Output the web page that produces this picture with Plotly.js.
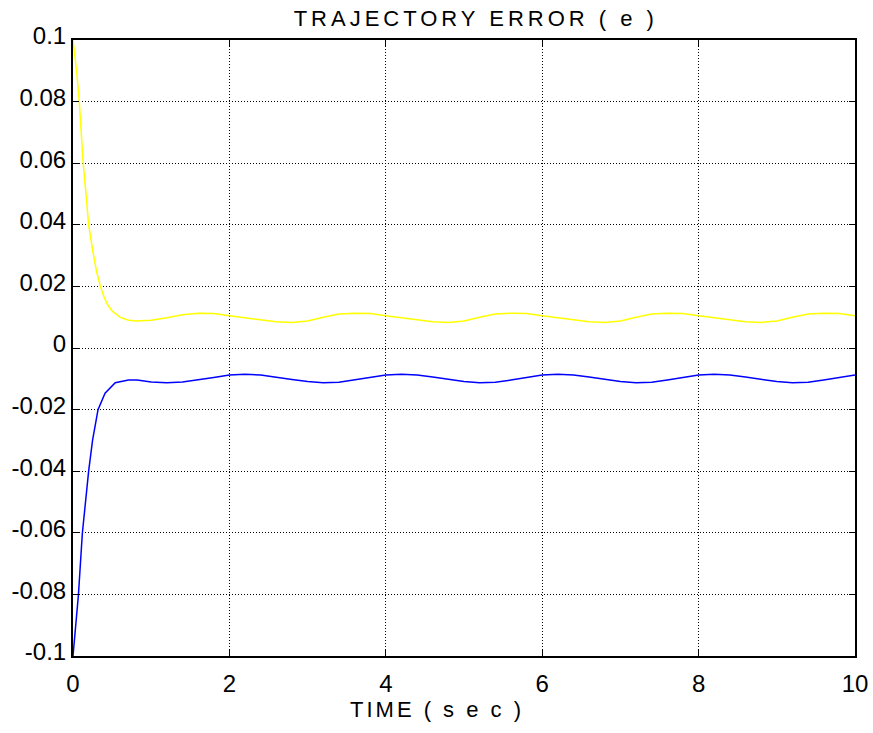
<!DOCTYPE html>
<html>
<head>
<meta charset="utf-8">
<script src="https://cdn.plot.ly/plotly-3.0.1.min.js"></script>
<style>
html,body{margin:0;padding:0;background:#fff;}
#chart{width:873px;height:733px;}
.gtitle{letter-spacing:4px;}
.xtitle{letter-spacing:3px; transform: translate(-27px, 0px);}
</style>
</head>
<body>
<div id="chart"></div>
<script>
// time (sec) for the yellow error curve
var timeY = [0,0.02,0.05,0.08,0.1,0.13,0.17,0.2,0.25,0.3,0.35,0.4,0.45,0.5,0.6,0.7,0.8,0.9,1.0,
  1.2,1.4,1.6,1.8,2.0,2.2,2.4,2.6,2.8,3.0,3.2,3.4,3.6,3.8,4.0,4.2,4.4,4.6,4.8,5.0,
  5.2,5.4,5.6,5.8,6.0,6.2,6.4,6.6,6.8,7.0,7.2,7.4,7.6,7.8,8.0,8.2,8.4,8.6,8.8,9.0,
  9.2,9.4,9.6,9.8,10.0];
var errorYellow = [0.1,0.096,0.089,0.080,0.072,0.060,0.049,0.040,0.032,0.025,0.020,0.0163,0.0138,0.0120,0.0100,0.0091,0.0088,0.0088,0.0090,
  0.0098,0.0108,0.0113,0.0112,0.0105,0.0098,0.0090,0.0085,0.0083,0.0088,0.0100,0.0110,0.0113,0.0112,0.0105,0.0098,0.0090,0.0085,0.0083,0.0088,
  0.0100,0.0110,0.0113,0.0112,0.0105,0.0098,0.0090,0.0085,0.0083,0.0088,0.0100,0.0110,0.0113,0.0112,0.0105,0.0098,0.0090,0.0085,0.0083,0.0088,
  0.0100,0.0110,0.0113,0.0112,0.0105];

// time (sec) for the blue error curve
var timeB = [0,0.02,0.034,0.07,0.12,0.2,0.25,0.32,0.41,0.54,0.71,0.82,1.0,
  1.2,1.4,1.6,1.8,2.0,2.2,2.4,2.6,2.8,3.0,3.2,3.4,3.6,3.8,4.0,4.2,4.4,4.6,4.8,5.0,
  5.2,5.4,5.6,5.8,6.0,6.2,6.4,6.6,6.8,7.0,7.2,7.4,7.6,7.8,8.0,8.2,8.4,8.6,8.8,9.0,
  9.2,9.4,9.6,9.8,10.0];
var errorBlue = [-0.1,-0.094,-0.0905,-0.080,-0.060,-0.040,-0.030,-0.020,-0.0147,-0.0113,-0.0104,-0.0104,-0.0110,
  -0.0113,-0.0110,-0.0104,-0.0096,-0.0088,-0.0085,-0.0088,-0.0094,-0.0102,-0.0109,-0.0113,-0.0111,-0.0104,-0.0096,-0.0088,-0.0085,-0.0088,-0.0094,-0.0102,-0.0109,
  -0.0113,-0.0111,-0.0104,-0.0096,-0.0088,-0.0085,-0.0088,-0.0094,-0.0102,-0.0109,-0.0113,-0.0111,-0.0104,-0.0096,-0.0088,-0.0085,-0.0088,-0.0094,-0.0102,-0.0109,
  -0.0113,-0.0111,-0.0104,-0.0096,-0.0088];

var xTicks = [0,2,4,6,8,10];
var xTickText = ['0','2','4','6','8','10'];
var yTicks = [-0.1,-0.08,-0.06,-0.04,-0.02,0,0.02,0.04,0.06,0.08,0.1];
var yTickText = ['-0.1','-0.08','-0.06','-0.04','-0.02','0','0.02','0.04','0.06','0.08','0.1'];

var FONT = 'Liberation Sans, Arial, sans-serif';

var traces = [
  {x: timeY, y: errorYellow, type: 'scatter', mode: 'lines', line: {color: '#ffff00', width: 1.5}, hoverinfo: 'none'},
  {x: timeB, y: errorBlue, type: 'scatter', mode: 'lines', line: {color: '#0000ff', width: 1.5}, hoverinfo: 'none'}
];

var axisCommon = {
  showline: true, linecolor: '#000', linewidth: 2, mirror: 'ticks',
  ticks: 'inside', ticklen: 6, tickwidth: 1, tickcolor: '#000',
  showgrid: true, gridcolor: '#000', gridwidth: 1, griddash: '1px,2px',
  zeroline: false, tickfont: {family: FONT, size: 24, color: '#000'}
};

var layout = {
  width: 873, height: 733,
  paper_bgcolor: '#fff', plot_bgcolor: '#fff',
  showlegend: false,
  margin: {l: 72.5, r: 18, t: 40, b: 77},
  title: {text: 'TRAJECTORY ERROR ( e )', font: {family: FONT, size: 22, color: '#000'}, x: 0.545, xanchor: 'center', y: 0.986, yanchor: 'top'},
  xaxis: Object.assign({}, axisCommon, {
    range: [0, 10], tickvals: xTicks, ticktext: xTickText, ticklabelstandoff: 5,
    title: {text: 'TIME ( s e c )', font: {family: FONT, size: 22, color: '#000'}, standoff: 4}
  }),
  yaxis: Object.assign({}, axisCommon, {
    range: [-0.1, 0.1], tickvals: yTicks, ticktext: yTickText, ticklabelstandoff: 0, ticklabelshift: -4
  })
};

Plotly.newPlot('chart', traces, layout, {displayModeBar: false, staticPlot: true});
</script>
</body>
</html>
